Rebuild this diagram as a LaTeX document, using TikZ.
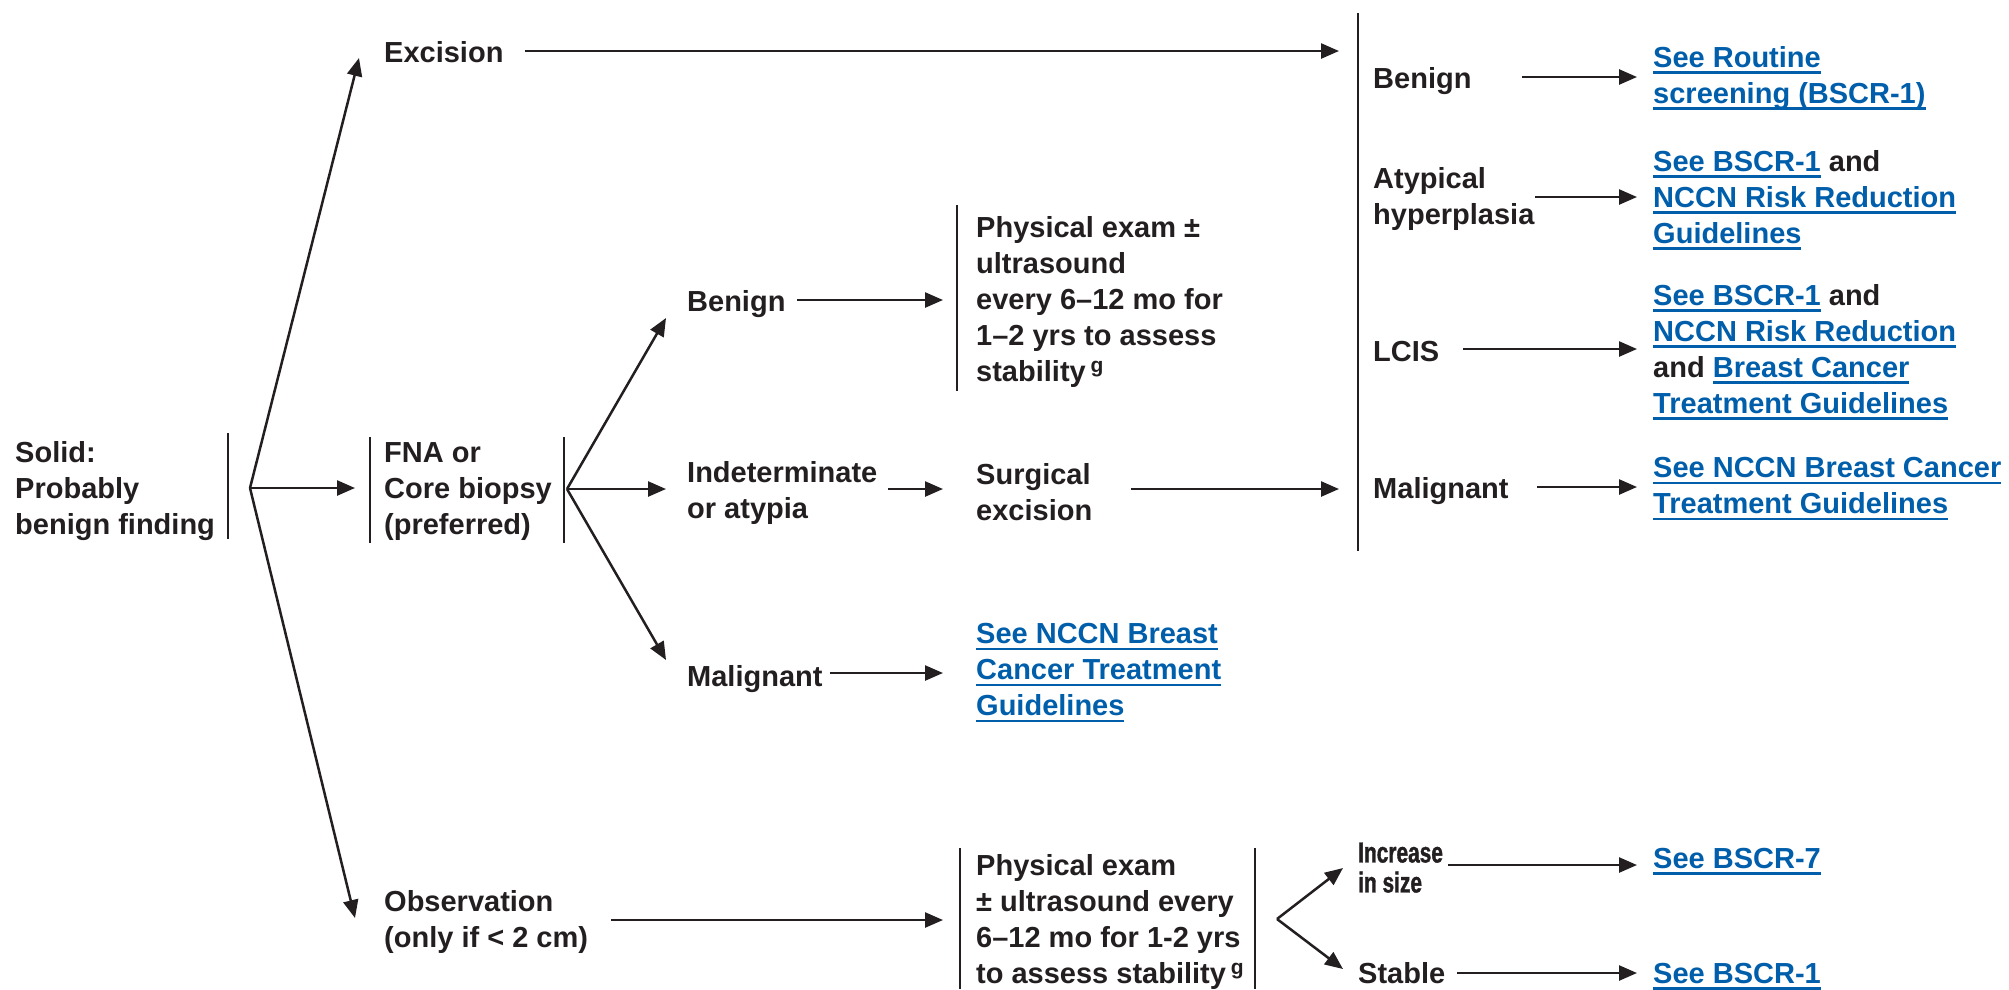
\documentclass[tikz,border=0pt]{standalone}
\usepackage{fontspec}
\setmainfont{Liberation Sans}
\newfontfamily\narrowf{Liberation Sans}[UprightFont=* Bold, FakeStretch=0.72, FakeBold=1.2]
\usetikzlibrary{arrows.meta}
\definecolor{ink}{RGB}{35,31,32}
\definecolor{nblue}{RGB}{0,94,170}
\newcommand{\lk}[1]{{\color{nblue}\setbox0=\hbox{#1}\rlap{\rule[-6.5pt]{\wd0}{2.3pt}}\box0}}
\newcommand{\supg}{\,\raisebox{9pt}{\fontsize{21}{21}\selectfont g}}
\begin{document}
\begin{tikzpicture}[x=1pt,y=-1pt,
 txt/.style={font=\bfseries\fontsize{29}{36}\selectfont, text=ink, align=left, inner sep=0pt, anchor=west, execute at begin node=\strut, execute at end node=\strut},
 arr/.style={draw=ink, line width=2.5pt, -{Triangle[length=18pt,width=15pt]}},
 bar/.style={draw=ink, line width=2.7pt}]
\useasboundingbox (0,0) rectangle (2009,989);

% ---- text nodes ----
\node[txt] (solid) at (15,493) {Solid:\\Probably\\benign finding};
\node[txt] (excision) at (384,55) {Excision};
\node[txt] (fna) at (384,494) {FNA or\\Core biopsy\\(preferred)};
\node[txt] (obs) at (384,924) {Observation\\(only if < 2 cm)};
\node[txt] (benA) at (687,304) {Benign};
\node[txt] (phys1) at (976,304) {Physical exam ±\\ultrasound\\every 6–12 mo for\\1–2 yrs to assess\\stability\supg};
\node[txt] (indet) at (687,495) {Indeterminate\\or atypia};
\node[txt] (surg) at (976,497) {Surgical\\excision};
\node[txt] (malA) at (687,679) {Malignant};
\node[txt] (linkA) at (976,675) {\lk{See NCCN Breast}\\\lk{Cancer Treatment}\\\lk{Guidelines}};
\node[txt] (benR) at (1373,81) {Benign};
\node[txt] (linkBen) at (1653,80) {\lk{See Routine}\\\lk{screening (BSCR-1)}};
\node[txt] (atyp) at (1373,201) {Atypical\\hyperplasia};
\node[txt] (linkAtyp) at (1653,202) {\lk{See BSCR-1} and\\\lk{NCCN Risk Reduction}\\\lk{Guidelines}};
\node[txt] (lcis) at (1373,354) {LCIS};
\node[txt] (linkLcis) at (1653,354) {\lk{See BSCR-1} and\\\lk{NCCN Risk Reduction}\\and \lk{Breast Cancer}\\\lk{Treatment Guidelines}};
\node[txt] (malR) at (1373,491) {Malignant};
\node[txt] (linkMal) at (1653,491) {\lk{See NCCN Breast Cancer}\\\lk{Treatment Guidelines}};
\node[txt] (phys2) at (976,924) {Physical exam\\± ultrasound every\\6–12 mo for 1-2 yrs\\to assess stability\supg};
\node[txt,font=\narrowf\fontsize{29}{30}\selectfont] (incr) at (1358,872) {Increase\\in size};
\node[txt] (see7) at (1653,861) {\lk{See BSCR-7}};
\node[txt] (stable) at (1358,976) {Stable};
\node[txt] (see1) at (1653,976) {\lk{See BSCR-1}};

% ---- bars ----
\coordinate (solidT) at (228,433); \coordinate (solidB) at (228,539);
\coordinate (fnaLT) at (370,437); \coordinate (fnaLB) at (370,543);
\coordinate (fnaRT) at (564,437); \coordinate (fnaRB) at (564,543);
\coordinate (bigT) at (1358,13); \coordinate (bigB) at (1358,551);
\coordinate (p1T) at (957,205); \coordinate (p1B) at (957,391);
\coordinate (p2LT) at (960,848); \coordinate (p2LB) at (960,989);
\coordinate (p2RT) at (1255,848); \coordinate (p2RB) at (1255,989);
\draw[bar] (solidT) -- (solidB);
\draw[bar] (fnaLT) -- (fnaLB);
\draw[bar] (fnaRT) -- (fnaRB);
\draw[bar] (bigT) -- (bigB);
\draw[bar] (p1T) -- (p1B);
\draw[bar] (p2LT) -- (p2LB);
\draw[bar] (p2RT) -- (p2RB);

% ---- branch points and arrow ends ----
\coordinate (s0) at (250,488);
\coordinate (f0) at (567,489);
\coordinate (o0) at (1277,919);
\coordinate (excE) at (525,51);
\coordinate (benAE) at (797,300);
\coordinate (indE) at (888,489);
\coordinate (surE) at (1131,489);
\coordinate (malAE) at (830,673);
\coordinate (obsE) at (611,920);
\coordinate (benRE) at (1522,77);
\coordinate (atyE) at (1535,197);
\coordinate (lciE) at (1463,349);
\coordinate (malRE) at (1537,487);
\coordinate (incE) at (1448,865);
\coordinate (staE) at (1457,973);

\draw[arr] (s0) -- (359,58);
\draw[arr] (s0) -- (355,488);
\draw[arr] (s0) -- (355,918);
\draw[arr] (excE) -- (1339,51);
\draw[arr] (f0) -- (666,318);
\draw[arr] (f0) -- (666,489);
\draw[arr] (f0) -- (666,660);
\draw[arr] (benAE) -- (943,300);
\draw[arr] (indE) -- (943,489);
\draw[arr] (surE) -- (1339,489);
\draw[arr] (malAE) -- (943,673);
\draw[arr] (obsE) -- (943,920);
\draw[arr] (benRE) -- (1637,77);
\draw[arr] (atyE) -- (1637,197);
\draw[arr] (lciE) -- (1637,349);
\draw[arr] (malRE) -- (1637,487);
\draw[arr] (o0) -- (1343,868);
\draw[arr] (o0) -- (1343,969);
\draw[arr] (incE) -- (1637,865);
\draw[arr] (staE) -- (1637,973);
\end{tikzpicture}
\end{document}
